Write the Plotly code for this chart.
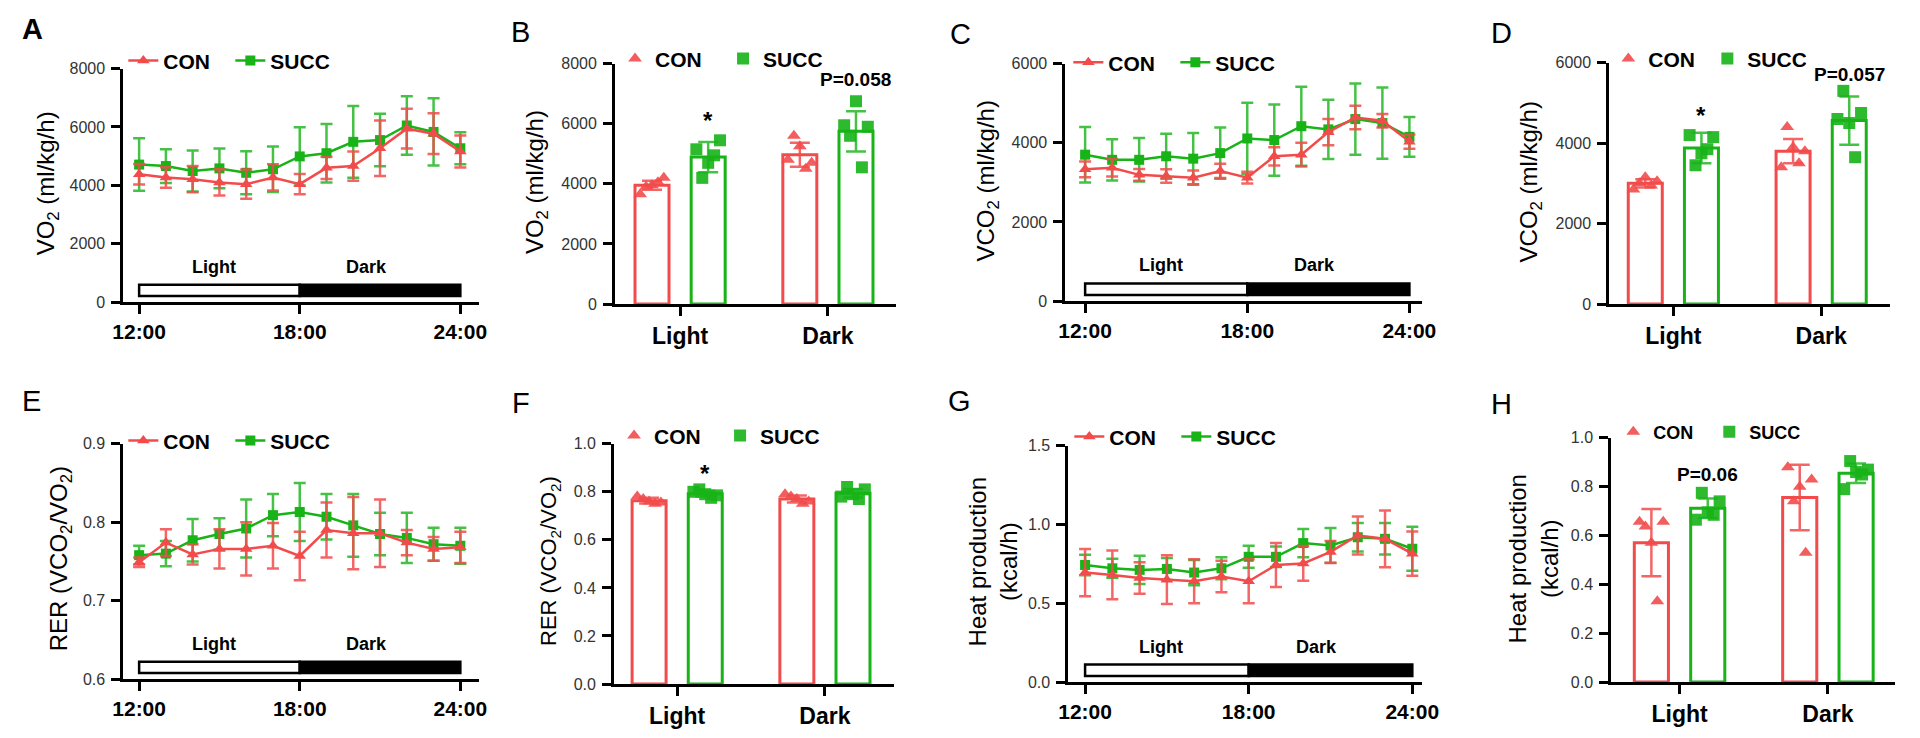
import plotly.graph_objects as go

# ---------------- data ----------------
HOURS = [12, 13, 14, 15, 16, 17, 18, 19, 20, 21, 22, 23, 24]
HOUR_TICKS = [12, 18, 24]
HOUR_LABELS = ["12:00", "18:00", "24:00"]
PHASES = ["Light", "Dark"]
GROUPS = ["CON", "SUCC"]

# A: VO2 time course (ml/kg/h)
VO2_CON = [4380, 4270, 4210, 4100, 4040, 4270, 4040, 4600, 4660, 5270, 5940, 5770, 5160]
VO2_CON_SD = [350, 350, 450, 450, 500, 450, 350, 380, 500, 950, 680, 700, 550]
VO2_SUCC = [4710, 4660, 4490, 4580, 4430, 4550, 4990, 5100, 5490, 5550, 6050, 5830, 5270]
VO2_SUCC_SD = [900, 580, 700, 680, 740, 780, 1000, 1000, 1230, 900, 1000, 1150, 550]

# C: VCO2 time course (ml/kg/h)
VCO2_CON = [3330, 3370, 3190, 3160, 3120, 3290, 3120, 3660, 3700, 4270, 4640, 4560, 4030]
VCO2_CON_SD = [200, 220, 150, 170, 180, 180, 150, 230, 300, 330, 300, 170, 180]
VCO2_SUCC = [3700, 3570, 3570, 3660, 3600, 3740, 4110, 4070, 4420, 4340, 4600, 4500, 4150]
VCO2_SUCC_SD = [700, 520, 550, 570, 650, 650, 900, 900, 1000, 750, 900, 900, 500]

# E: RER time course
RER_CON = [0.749, 0.774, 0.759, 0.766, 0.766, 0.770, 0.757, 0.790, 0.786, 0.786, 0.774, 0.766, 0.768]
RER_CON_SD = [0.006, 0.017, 0.013, 0.025, 0.034, 0.029, 0.031, 0.035, 0.046, 0.043, 0.016, 0.015, 0.020]
RER_SUCC = [0.758, 0.760, 0.777, 0.785, 0.792, 0.809, 0.813, 0.807, 0.796, 0.785, 0.780, 0.772, 0.770]
RER_SUCC_SD = [0.012, 0.016, 0.027, 0.020, 0.037, 0.027, 0.037, 0.029, 0.040, 0.027, 0.032, 0.021, 0.023]

# G: heat production time course (kcal/h)
HEAT_CON = [0.695, 0.680, 0.660, 0.650, 0.640, 0.670, 0.640, 0.743, 0.753, 0.826, 0.930, 0.909, 0.815]
HEAT_CON_SD = [0.15, 0.155, 0.10, 0.155, 0.14, 0.10, 0.14, 0.14, 0.11, 0.07, 0.12, 0.18, 0.14]
HEAT_SUCC = [0.743, 0.722, 0.712, 0.718, 0.695, 0.722, 0.795, 0.795, 0.882, 0.867, 0.919, 0.909, 0.846]
HEAT_SUCC_SD = [0.065, 0.06, 0.09, 0.07, 0.08, 0.07, 0.07, 0.065, 0.09, 0.11, 0.09, 0.10, 0.14]

# B: VO2 Light / Dark
VO2B_CON = [3950, 4970]
VO2B_CON_SD = [150, 400]
VO2B_SUCC = [4890, 5750]
VO2B_SUCC_SD = [500, 670]
VO2B_CON_PTS = [[3950, 3650, 4200, 3900, 4050], [5250, 4800, 4700, 5600, 4500]]
VO2B_SUCC_PTS = [[4700, 5150, 5450, 4200, 4950], [6750, 5950, 5900, 5600, 4550]]

# D: VCO2 Light / Dark
VCO2B_CON = [3000, 3800]
VCO2B_CON_SD = [100, 300]
VCO2B_SUCC = [3880, 4560]
VCO2B_SUCC_SD = [380, 600]
VCO2B_CON_PTS = [[3150, 2850, 3050, 3000, 2950], [3900, 3400, 3800, 4400, 3500]]
VCO2B_SUCC_PTS = [[3750, 4200, 4150, 3450, 3850], [4500, 4600, 4750, 5300, 3650]]

# F: RER Light / Dark
RERB_CON = [0.763, 0.770]
RERB_CON_SD = [0.012, 0.015]
RERB_SUCC = [0.792, 0.794]
RERB_SUCC_SD = [0.012, 0.018]
RERB_CON_PTS = [[0.76, 0.78, 0.755, 0.77, 0.75], [0.77, 0.79, 0.76, 0.78, 0.75]]
RERB_SUCC_PTS = [[0.79, 0.80, 0.785, 0.81, 0.775], [0.79, 0.78, 0.81, 0.82, 0.77]]

# H: heat production Light / Dark
HEATB_CON = [0.571, 0.756]
HEATB_CON_SD = [0.138, 0.134]
HEATB_SUCC = [0.712, 0.855]
HEATB_SUCC_SD = [0.04, 0.04]
HEATB_CON_PTS = [[0.571, 0.657, 0.657, 0.637, 0.331], [0.80, 0.88, 0.83, 0.74, 0.53]]
HEATB_SUCC_PTS = [[0.695, 0.665, 0.74, 0.775, 0.685], [0.86, 0.79, 0.87, 0.905, 0.85]]

# ---------------- styling / layout helpers ----------------
W, H = 1920, 738
RED = "#F24B4B"
GREEN = "#17B317"
RED_ERR = "rgba(242,75,75,0.85)"
GREEN_ERR = "rgba(23,179,23,0.8)"
FONT = "Liberation Sans, Arial, sans-serif"
JIT = [0.0, -0.08, 0.08, -0.04, 0.04]
BAR_OFF = [-0.19, 0.19]
BAR_W = 0.23


def fx(px):
    return px / W


def fy(py):
    return 1 - py / H


def names(k):
    s = "" if k == 1 else str(k)
    return "x" + s, "y" + s, "xaxis" + s, "yaxis" + s, "legend" + s


fig = go.Figure()
layout = dict(
    width=W, height=H, margin=dict(l=0, r=0, t=0, b=0),
    plot_bgcolor="white", paper_bgcolor="white",
    font=dict(family=FONT, color="black"),
    barmode="overlay", showlegend=True,
    annotations=[], shapes=[],
)

axis_base = dict(showline=True, linecolor="black", linewidth=3, ticks="outside",
                 tickcolor="black", tickwidth=3, ticklen=9, showgrid=False,
                 zeroline=False, fixedrange=True)

line_panels = [
    dict(k=1, dom=(114, 475, 62, 301), xr=(11.41, 24.70), yr=(0, 8000),
         yt=[0, 2000, 4000, 6000, 8000], yfmt="d",
         con=VO2_CON, con_sd=VO2_CON_SD, succ=VO2_SUCC, succ_sd=VO2_SUCC_SD,
         leg=(114, 54)),
    dict(k=3, dom=(1070, 1432, 57, 300), xr=(11.27, 24.47), yr=(0, 6000),
         yt=[0, 2000, 4000, 6000], yfmt="d",
         con=VCO2_CON, con_sd=VCO2_CON_SD, succ=VCO2_SUCC, succ_sd=VCO2_SUCC_SD,
         leg=(1073, 56)),
    dict(k=5, dom=(114, 475, 446, 687), xr=(11.41, 24.70), yr=(0.6, 0.9),
         yt=[0.6, 0.7, 0.8, 0.9], yfmt=".1f",
         con=RER_CON, con_sd=RER_CON_SD, succ=RER_SUCC, succ_sd=RER_SUCC_SD,
         leg=(114, 443)),
    dict(k=7, dom=(1073, 1432, 448, 690), xr=(11.386, 24.36), yr=(0, 1.5),
         yt=[0, 0.5, 1.0, 1.5], yfmt=".1f",
         con=HEAT_CON, con_sd=HEAT_CON_SD, succ=HEAT_SUCC, succ_sd=HEAT_SUCC_SD,
         leg=(1074, 439)),
]

bar_panels = [
    dict(k=2, dom=(613, 898, 57, 303), xr=(-0.44, 1.46), yr=(0, 8000),
         yt=[0, 2000, 4000, 6000, 8000], yfmt="d",
         con=VO2B_CON, con_sd=VO2B_CON_SD, succ=VO2B_SUCC, succ_sd=VO2B_SUCC_SD,
         con_pts=VO2B_CON_PTS, succ_pts=VO2B_SUCC_PTS, leg=(613, 52), ew=63, lfs=21),
    dict(k=4, dom=(1622, 1907, 56, 303), xr=(-0.433, 1.467), yr=(0, 6000),
         yt=[0, 2000, 4000, 6000], yfmt="d",
         con=VCO2B_CON, con_sd=VCO2B_CON_SD, succ=VCO2B_SUCC, succ_sd=VCO2B_SUCC_SD,
         con_pts=VCO2B_CON_PTS, succ_pts=VCO2B_SUCC_PTS, leg=(1621, 52), ew=54, lfs=21),
    dict(k=6, dom=(612, 896, 446, 692), xr=(-0.427, 1.467), yr=(0, 1.0),
         yt=[0, 0.2, 0.4, 0.6, 0.8, 1.0], yfmt=".1f",
         con=RERB_CON, con_sd=RERB_CON_SD, succ=RERB_SUCC, succ_sd=RERB_SUCC_SD,
         con_pts=RERB_CON_PTS, succ_pts=RERB_SUCC_PTS, leg=(612, 438), ew=61, lfs=21),
    dict(k=8, dom=(1624, 1912, 440, 690), xr=(-0.46, 1.453), yr=(0, 1.0),
         yt=[0, 0.2, 0.4, 0.6, 0.8, 1.0], yfmt=".1f",
         con=HEATB_CON, con_sd=HEATB_CON_SD, succ=HEATB_SUCC, succ_sd=HEATB_SUCC_SD,
         con_pts=HEATB_CON_PTS, succ_pts=HEATB_SUCC_PTS, leg=(1626, 434), ew=51, lfs=18),
]


def set_axes(p, xt, xtext, xfont, xstand):
    xn, yn, xa, ya, ln = names(p["k"])
    l, r, t, b = p["dom"]
    layout[xa] = dict(axis_base, domain=[fx(l), fx(r)], anchor=yn, range=list(p["xr"]),
                      tickmode="array", tickvals=xt, ticktext=xtext,
                      tickfont=xfont, ticklabelstandoff=xstand)
    layout[ya] = dict(axis_base, domain=[fy(b), fy(t)], anchor=xn, range=list(p["yr"]),
                      tickmode="array", tickvals=p["yt"], tickformat=p["yfmt"],
                      tickfont=dict(size=16, color="#333333", family=FONT),
                      ticklabelstandoff=3)
    return xn, yn, ln


# ---- line (time-course) panels ----
for p in line_panels:
    xn, yn, ln = set_axes(p, HOUR_TICKS, HOUR_LABELS,
                          dict(size=21, family=FONT, weight="bold"), 0)
    fig.add_trace(go.Scatter(
        x=HOURS, y=p["succ"], mode="lines+markers", name=GROUPS[1],
        line=dict(color=GREEN, width=2.5),
        marker=dict(symbol="square", size=10, color=GREEN),
        error_y=dict(type="data", array=p["succ_sd"], color=GREEN_ERR, thickness=2.5, width=6),
        xaxis=xn, yaxis=yn, legend=ln, legendrank=2, cliponaxis=False))
    fig.add_trace(go.Scatter(
        x=HOURS, y=p["con"], mode="lines+markers", name=GROUPS[0],
        line=dict(color=RED, width=2.5),
        marker=dict(symbol="triangle-up", size=11, color=RED),
        error_y=dict(type="data", array=p["con_sd"], color=RED_ERR, thickness=2.5, width=6),
        xaxis=xn, yaxis=yn, legend=ln, legendrank=1, cliponaxis=False))
    layout[ln] = dict(
        x=fx(p["leg"][0]), y=fy(p["leg"][1]), xanchor="left", yanchor="middle",
        orientation="h", bgcolor="rgba(0,0,0,0)",
        font=dict(size=21, family=FONT, weight="bold"),
        entrywidth=62, entrywidthmode="pixels", itemwidth=30)
    # light / dark bar
    y0, y1 = p["yr"]
    span = y1 - y0
    layout["shapes"].append(dict(type="rect", xref=xn, yref=yn,
                                 x0=HOURS[0], x1=HOURS[6], y0=y0 + 0.026 * span, y1=y0 + 0.074 * span,
                                 fillcolor="white", line=dict(color="black", width=2.5)))
    layout["shapes"].append(dict(type="rect", xref=xn, yref=yn,
                                 x0=HOURS[6], x1=HOURS[-1], y0=y0 + 0.026 * span, y1=y0 + 0.074 * span,
                                 fillcolor="black", line=dict(color="black", width=2.5)))
    for lab, xc in zip(PHASES, [14.8, 20.5]):
        layout["annotations"].append(dict(
            xref=xn, yref=yn, x=xc, y=y0 + 0.15 * span, text=lab, showarrow=False,
            font=dict(size=18, family=FONT, weight="bold"), xanchor="center", yanchor="middle"))

# ---- bar (Light / Dark) panels ----
for p in bar_panels:
    xn, yn, ln = set_axes(p, [0, 1], PHASES, dict(size=23, family=FONT, weight="bold"), 0)
    idx = list(range(len(PHASES)))
    series = [
        (GROUPS[0], p["con"], p["con_sd"], p["con_pts"], RED, RED_ERR, "triangle-up", BAR_OFF[0], 1),
        (GROUPS[1], p["succ"], p["succ_sd"], p["succ_pts"], GREEN, GREEN_ERR, "square", BAR_OFF[1], 2),
    ]
    for name, means, sds, pts, col, ecol, sym, off, rank in series:
        fig.add_trace(go.Bar(
            x=[i + off for i in idx], y=means, width=BAR_W,
            marker=dict(color="white", line=dict(color=col, width=3)),
            error_y=dict(type="data", array=sds, color=ecol, thickness=2.5, width=10),
            xaxis=xn, yaxis=yn, showlegend=False, name=name))
    for name, means, sds, pts, col, ecol, sym, off, rank in series:
        xs, ys = [], []
        for i in idx:
            for j, v in enumerate(pts[i]):
                xs.append(i + off + JIT[j])
                ys.append(v)
        fig.add_trace(go.Scatter(
            x=xs, y=ys, mode="markers", name=name,
            marker=dict(symbol=sym, size=12, color=col, opacity=0.9),
            xaxis=xn, yaxis=yn, legend=ln, legendrank=rank, cliponaxis=False))
    layout[ln] = dict(
        x=fx(p["leg"][0]), y=fy(p["leg"][1]), xanchor="left", yanchor="middle",
        orientation="h", bgcolor="rgba(0,0,0,0)",
        font=dict(size=p["lfs"], family=FONT, weight="bold"),
        entrywidth=p["ew"], entrywidthmode="pixels", itemwidth=30)

# significance marks
sig = [
    ("x2", "y2", 0 + BAR_OFF[1], 6100, "*"),
    ("x2", "y2", 1 + BAR_OFF[1], 7460, "P=0.058"),
    ("x4", "y4", 0 + BAR_OFF[1], 4690, "*"),
    ("x4", "y4", 1 + BAR_OFF[1], 5700, "P=0.057"),
    ("x6", "y6", 0 + BAR_OFF[1], 0.878, "*"),
    ("x8", "y8", 0 + BAR_OFF[1], 0.851, "P=0.06"),
]
for xr_, yr_, xv, yv, txt in sig:
    layout["annotations"].append(dict(
        xref=xr_, yref=yr_, x=xv, y=yv, text=txt, showarrow=False,
        font=dict(size=24 if txt == "*" else 19, family=FONT, weight="bold"),
        xanchor="center", yanchor="middle"))

# axis titles (paper px positions)
titles = [
    (37, 179, "VO<sub>2</sub> (ml/kg/h)", 24),
    (534, 178, "VO<sub>2</sub> (ml/kg/h)", 24),
    (991, 177, "VCO<sub>2</sub> (ml/kg/h)", 24),
    (1542, 178, "VCO<sub>2</sub> (ml/kg/h)", 24),
    (50, 564, "RER (VCO<sub>2</sub>/VO<sub>2</sub>)", 24),
    (547, 566, "RER (VCO<sub>2</sub>/VO<sub>2</sub>)", 22),
    (996, 567, "Heat production<br>(kcal/h)", 24),
    (1545, 564, "Heat production<br>(kcal/h)", 24),
]
for px, py, txt, fs in titles:
    layout["annotations"].append(dict(
        xref="paper", yref="paper", x=fx(px), y=fy(py), text=txt, textangle=-90,
        showarrow=False, font=dict(size=fs, family=FONT), xanchor="center", yanchor="middle"))

# panel letters
letters = [("A", 22, 22, True), ("B", 517, 25, False), ("C", 964, 27, False), ("D", 1513, 26, False),
           ("E", 21, 402, False), ("F", 518, 404, False), ("G", 963, 402, False), ("H", 1513, 405, False)]
for txt, px, py, bold in letters:
    layout["annotations"].append(dict(
        xref="paper", yref="paper", x=fx(px), y=fy(py), text=txt, showarrow=False,
        font=dict(size=29, family=FONT, weight="bold" if bold else "normal"),
        xanchor="center", yanchor="middle"))

fig.update_layout(**layout)
fig.write_html("out.html", config={"displayModeBar": False},
               post_script="document.body.style.margin='0';document.body.style.overflow='hidden';")
